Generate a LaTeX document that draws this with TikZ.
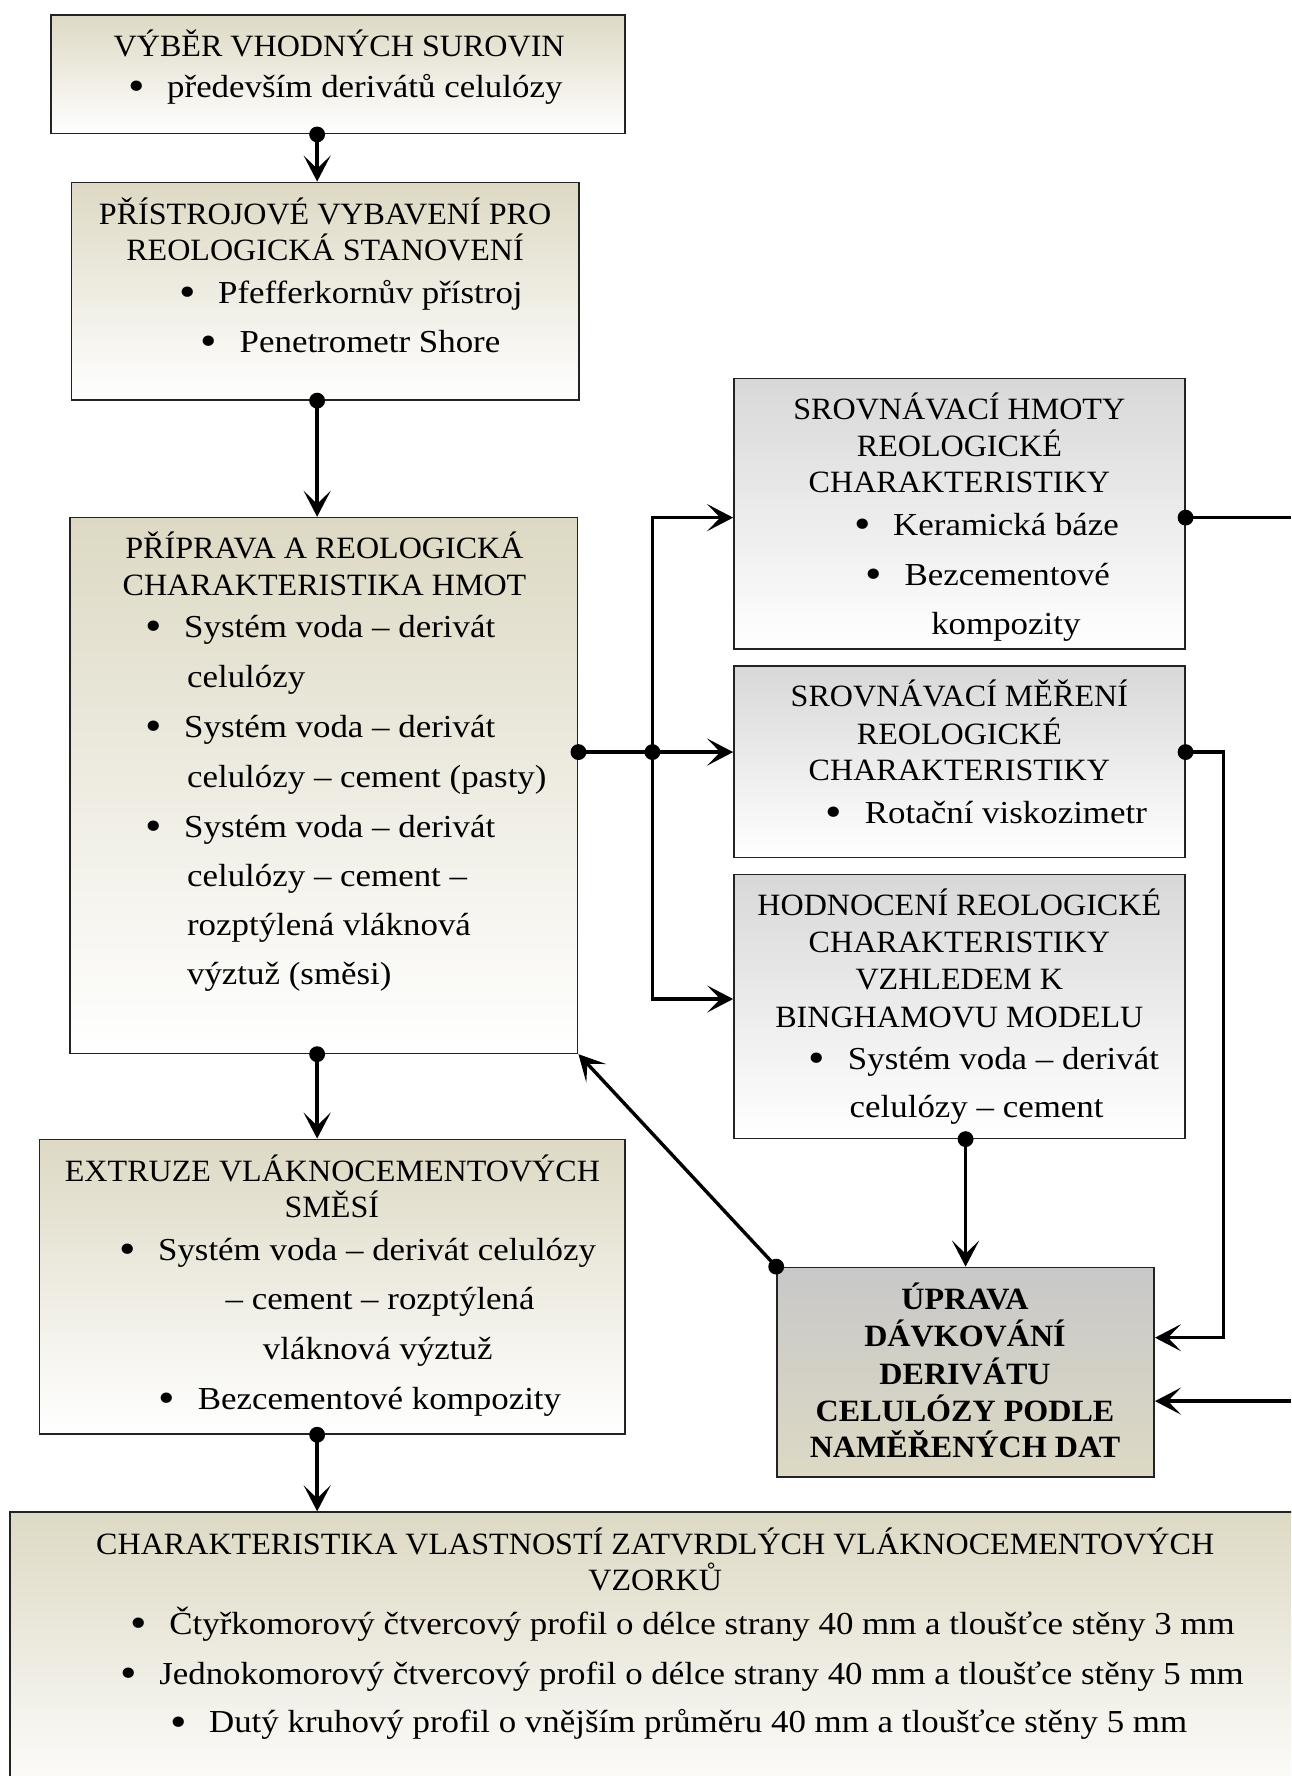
\documentclass[tikz,border=0pt]{standalone}
\usepackage{graphicx}
\usepackage{fontspec}
\setmainfont{Liberation Serif}[FakeStretch=1.035]
\newfontfamily\bodyf{Liberation Serif}[FakeStretch=1.09]
\usetikzlibrary{arrows.meta,fit}
\definecolor{beige}{RGB}{221,217,196}
\definecolor{grayt}{RGB}{216,216,216}
\definecolor{grayd}{RGB}{200,200,200}
\definecolor{framec}{RGB}{35,35,35}
\newcommand\bul{\makebox[39pt][l]{\raisebox{-0.1em}{\scalebox{1.35}{\textbullet}}}}
\begin{document}
\begin{tikzpicture}[x=1.13246pt,y=-1.13246pt,
  box/.style={draw=framec, line width=1.6pt, inner sep=0pt},
  tanbox/.style={box, top color=beige, bottom color=white},
  greybox/.style={box, top color=grayt, bottom color=white},
  keybox/.style={box, top color=grayd, bottom color=beige},
  ttl/.style={font=\fontsize{31}{36}\selectfont, inner sep=0pt, anchor=base},
  bdy/.style={font=\bodyf\fontsize{32}{36}\selectfont, inner sep=0pt, anchor=base west},
  bld/.style={font=\bfseries\fontsize{31}{36}\selectfont, inner sep=0pt, anchor=base},
  conn/.style={line width=3.4pt, draw=black},
  arr/.style={conn, -{Stealth[length=26pt,width=27pt,inset=13pt]}},
  dot/.style={radius=7},
]
\path[use as bounding box] (0,0) rectangle (1140,1568);
\clip (0,0) rectangle (1140,1568);

% boxes
\node[tanbox, fit={(45,13) (552,118)}] (b1) {};
\node[tanbox, fit={(63,161) (511,353)}] (b2) {};
\node[tanbox, fit={(62,457) (510,930)}] (b3) {};
\node[greybox, fit={(648,334) (1046,573)}] (b4) {};
\node[greybox, fit={(648,588) (1046,757)}] (b5) {};
\node[greybox, fit={(648,772) (1046,1005)}] (b6) {};
\node[keybox, fit={(686,1119) (1019,1304)}] (b7) {};
\node[tanbox, fit={(35,1006) (552,1266)}] (b8) {};
\node[tanbox, fit={(9,1335) (1150,1600)}] (b9) {};

% helper coordinates
\coordinate (cx) at (280,0);
\coordinate (jn) at (576,664);
\coordinate (j4) at (576,457);
\coordinate (j6) at (576,882);
\coordinate (r5) at (1080,664);
\coordinate (r7) at (1080,1181);
\coordinate (e4) at (1140,457);
\coordinate (e7) at (1140,1237);

% connectors
\draw[arr] (b1.south -| cx) -- (b2.north -| cx);
\draw[arr] (b2.south -| cx) -- (b3.north -| cx);
\draw[arr] (b3.south -| cx) -- (b8.north -| cx);
\draw[arr] (b8.south -| cx) -- (b9.north -| cx);
\draw[conn] (b3.east |- jn) -- (jn);
\draw[arr] (jn) -- (b5.west |- jn);
\draw[arr] (jn) -- (j4) -- (b4.west |- j4);
\draw[arr] (jn) -- (j6) -- (b6.west |- j6);
\draw[arr] (b6.south -| b7.north) -- (b7.north);
\draw[arr] (b7.north west) -- (b3.south east);
\draw[arr] (b5.east |- r5) -- (r5) -- (r7) -- (b7.east |- r7);
\draw[conn] (b4.east |- e4) -- (e4);
\draw[arr] (e7) -- (b7.east |- e7);

% dots
\fill (b1.south -| cx) circle[dot];
\fill (b2.south -| cx) circle[dot];
\fill (b3.south -| cx) circle[dot];
\fill (b8.south -| cx) circle[dot];
\fill (b3.east |- jn) circle[dot];
\fill (jn) circle[dot];
\fill (b6.south -| b7.north) circle[dot];
\fill (b7.north west) circle[dot];
\fill (b5.east |- r5) circle[dot];
\fill (b4.east |- e4) circle[dot];

% texts box 1
\node[ttl] (t1a) at (299.5,50) {VÝBĚR VHODNÝCH SUROVIN};
\node[bdy] (t1b) at (113,86) {\bul především derivátů celulózy};
% box 2
\node[ttl] (t2a) at (287,198) {PŘÍSTROJOVÉ VYBAVENÍ PRO};
\node[ttl] (t2b) at (287,230) {REOLOGICKÁ STANOVENÍ};
\node[bdy] (t2c) at (158,268) {\bul Pfefferkornův přístroj};
\node[bdy] (t2d) at (177,311) {\bul Penetrometr Shore};
% box 3
\node[ttl] (t3a) at (286.5,493) {PŘÍPRAVA A REOLOGICKÁ};
\node[ttl] (t3b) at (286.5,526) {CHARAKTERISTIKA HMOT};
\node[bdy] (t3c) at (128,563) {\bul Systém voda – derivát};
\node[bdy] (t3d) at (165,607) {celulózy};
\node[bdy] (t3e) at (128,651) {\bul Systém voda – derivát};
\node[bdy] (t3f) at (165,695) {celulózy – cement (pasty)};
\node[bdy] (t3g) at (128,739) {\bul Systém voda – derivát};
\node[bdy] (t3h) at (165,783) {celulózy – cement –};
\node[bdy] (t3i) at (165,826) {rozptýlená vláknová};
\node[bdy] (t3j) at (165,869) {výztuž (směsi)};
% box 4
\node[ttl] (t4a) at (847,370) {SROVNÁVACÍ HMOTY};
\node[ttl] (t4b) at (847,403) {REOLOGICKÉ};
\node[ttl] (t4c) at (847,435) {CHARAKTERISTIKY};
\node[bdy] (t4d) at (754,473) {\bul Keramická báze};
\node[bdy] (t4e) at (764,517) {\bul Bezcementové};
\node[bdy] (t4f) at (822,560) {kompozity};
% box 5
\node[ttl] (t5a) at (847,624) {SROVNÁVACÍ MĚŘENÍ};
\node[ttl] (t5b) at (847,657) {REOLOGICKÉ};
\node[ttl] (t5c) at (847,689) {CHARAKTERISTIKY};
\node[bdy] (t5d) at (729,727) {\bul Rotační viskozimetr};
% box 6
\node[ttl] (t6a) at (847,808) {HODNOCENÍ REOLOGICKÉ};
\node[ttl] (t6b) at (847,841) {CHARAKTERISTIKY};
\node[ttl] (t6c) at (847,874) {VZHLEDEM K};
\node[ttl] (t6d) at (847,907) {BINGHAMOVU MODELU};
\node[bdy] (t6e) at (714,944) {\bul Systém voda – derivát};
\node[bdy] (t6f) at (750,987) {celulózy – cement};
% box 7
\node[bld] (t7a) at (852,1156) {ÚPRAVA};
\node[bld] (t7b) at (852,1189) {DÁVKOVÁNÍ};
\node[bld] (t7c) at (852,1222) {DERIVÁTU};
\node[bld] (t7d) at (852,1255) {CELULÓZY PODLE};
\node[bld] (t7e) at (852,1287) {NAMĚŘENÝCH DAT};
% box 8
\node[ttl] (t8a) at (293.5,1043) {EXTRUZE VLÁKNOCEMENTOVÝCH};
\node[ttl] (t8b) at (293,1075) {SMĚSÍ};
\node[bdy] (t8c) at (105,1113) {\bul Systém voda – derivát celulózy};
\node[bdy] (t8d) at (199,1156) {– cement – rozptýlená};
\node[bdy] (t8e) at (232,1200) {vláknová výztuž};
\node[bdy] (t8f) at (140,1244) {\bul Bezcementové kompozity};
% box 9
\node[ttl] (t9a) at (578.5,1372) {CHARAKTERISTIKA VLASTNOSTÍ ZATVRDLÝCH VLÁKNOCEMENTOVÝCH};
\node[ttl] (t9b) at (578.5,1404) {VZORKŮ};
\node[bdy] (t9c) at (115,1443) {\bul Čtyřkomorový čtvercový profil o délce strany 40 mm a tloušťce stěny 3 mm};
\node[bdy] (t9d) at (106,1487) {\bul Jednokomorový čtvercový profil o délce strany 40 mm a tloušťce stěny 5 mm};
\node[bdy] (t9e) at (150,1530) {\bul Dutý kruhový profil o vnějším průměru 40 mm a tloušťce stěny 5 mm};
\end{tikzpicture}
\end{document}
